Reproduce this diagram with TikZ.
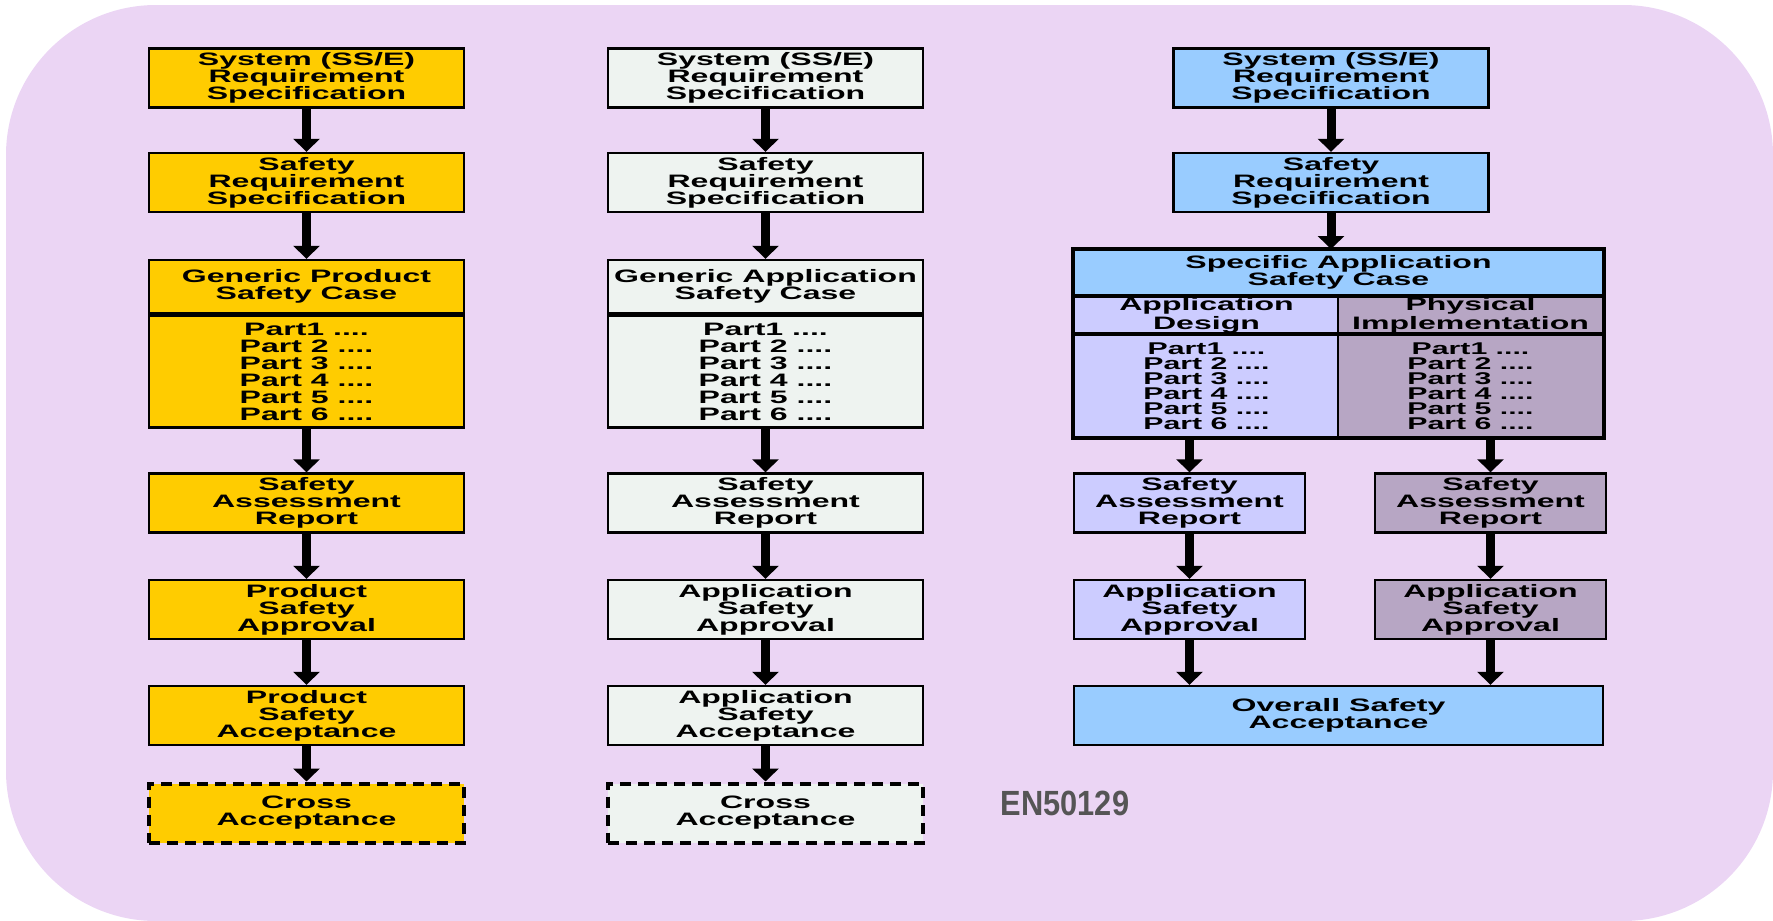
\documentclass[tikz,border=0pt]{standalone}
\usepackage{fontspec}
\setmainfont{Liberation Sans}
\newfontfamily\boxfont{Liberation Sans}[FakeStretch=1.78]
\newfontfamily\enfont{Liberation Sans}[FakeStretch=0.88]
\usetikzlibrary{arrows.meta,positioning}

\definecolor{bglilac}{RGB}{235,213,244}
\definecolor{prodyellow}{RGB}{255,204,0}
\definecolor{genwhite}{RGB}{238,243,240}
\definecolor{specblue}{RGB}{153,204,255}
\definecolor{designlilac}{RGB}{204,204,255}
\definecolor{implmauve}{RGB}{183,166,196}
\definecolor{engrey}{RGB}{85,85,85}

\tikzset{
	stagebox/.style={draw,
		line width=1.2pt,
		minimum width=157.5pt,
		minimum height=29.5pt,
		inner sep=0pt,
		align=center,
		font=\boxfont\bfseries\fontsize{9}{8.5}\selectfont},
	halfbox/.style={stagebox, minimum width=115.5pt},
	crossbox/.style={stagebox, line width=2pt, dash pattern=on 5.5pt off 3.5pt},
	cellbox/.style={stagebox, line width=1pt, minimum width=132.5pt},
	flow/.style={line width=4.5pt, -{Triangle[width=13pt,length=6.5pt]}},
}

\begin{document}
\begin{tikzpicture}[x=0.5pt,y=-0.5pt]

\useasboundingbox (0,0) rectangle (1773,921);
\fill[bglilac, rounded corners=75pt] (6,5) rectangle (1773,921);

%Generic Product
\node [stagebox, fill=prodyellow] (srs1) at (306.5,78) {System (SS/E)\\Requirement\\Specification};
\node [stagebox, fill=prodyellow] (sfr1) at (306.5,182.5) {Safety\\Requirement\\Specification};
\node [stagebox, fill=prodyellow,
	minimum height=26.5pt,
]  (case1) at (306.5,286.5) {Generic Product\\Safety Case};
\node [stagebox, fill=prodyellow,
	minimum height=56pt,
	below=0pt of case1,
]  (parts1) {Part1 ....\\Part 2 ....\\Part 3 ....\\Part 4 ....\\Part 5 ....\\Part 6 ....};
\node [stagebox, fill=prodyellow] (sar1) at (306.5,503) {Safety\\Assessment\\Report};
\node [stagebox, fill=prodyellow] (appr1) at (306.5,609.5) {Product\\Safety\\Approval};
\node [stagebox, fill=prodyellow] (acc1) at (306.5,715.5) {Product\\Safety\\Acceptance};
\node [crossbox, fill=prodyellow] (cross1) at (306.5,813) {Cross\\Acceptance};

\draw[flow] (srs1.south) -- (sfr1.north);
\draw[flow] (sfr1.south) -- (case1.north);
\draw[flow] (parts1.south) -- (sar1.north);
\draw[flow] (sar1.south) -- (appr1.north);
\draw[flow] (appr1.south) -- (acc1.north);
\draw[flow] (acc1.south) -- (cross1.north);

%Generic Application
\node [stagebox, fill=genwhite] (srs2) at (765.5,78) {System (SS/E)\\Requirement\\Specification};
\node [stagebox, fill=genwhite] (sfr2) at (765.5,182.5) {Safety\\Requirement\\Specification};
\node [stagebox, fill=genwhite,
	minimum height=26.5pt,
]  (case2) at (765.5,286.5) {Generic Application\\Safety Case};
\node [stagebox, fill=genwhite,
	minimum height=56pt,
	below=0pt of case2,
]  (parts2) {Part1 ....\\Part 2 ....\\Part 3 ....\\Part 4 ....\\Part 5 ....\\Part 6 ....};
\node [stagebox, fill=genwhite] (sar2) at (765.5,503) {Safety\\Assessment\\Report};
\node [stagebox, fill=genwhite] (appr2) at (765.5,609.5) {Application\\Safety\\Approval};
\node [stagebox, fill=genwhite] (acc2) at (765.5,715.5) {Application\\Safety\\Acceptance};
\node [crossbox, fill=genwhite] (cross2) at (765.5,813) {Cross\\Acceptance};

\draw[flow] (srs2.south) -- (sfr2.north);
\draw[flow] (sfr2.south) -- (case2.north);
\draw[flow] (parts2.south) -- (sar2.north);
\draw[flow] (sar2.south) -- (appr2.north);
\draw[flow] (appr2.south) -- (acc2.north);
\draw[flow] (acc2.south) -- (cross2.north);

%Specific Application
\node [stagebox, fill=specblue] (srs3) at (1331,78) {System (SS/E)\\Requirement\\Specification};
\node [stagebox, fill=specblue] (sfr3) at (1331,182.5) {Safety\\Requirement\\Specification};
\node [stagebox, fill=specblue,
	line width=1pt,
	minimum width=264.5pt,
	minimum height=22.5pt,
]  (case3) at (1338.5,272.5) {Specific Application\\Safety Case};

%Design / Implementation cells
\node [cellbox, fill=designlilac,
	minimum height=18pt,
	anchor=north west,
	font=\boxfont\bfseries\fontsize{9}{7.5}\selectfont,
]  (design) at (case3.south west) {Application\\Design};
\node [cellbox, fill=implmauve,
	minimum height=18pt,
	anchor=north east,
	font=\boxfont\bfseries\fontsize{9}{7.5}\selectfont,
]  (impl) at (case3.south east) {Physical\\Implementation};
\node [cellbox, fill=designlilac,
	minimum height=51pt,
	below=0pt of design,
	font=\boxfont\bfseries\fontsize{8.5}{7.5}\selectfont,
]  (designparts) {Part1 ....\\Part 2 ....\\Part 3 ....\\Part 4 ....\\Part 5 ....\\Part 6 ....};
\node [cellbox, fill=implmauve,
	minimum height=51pt,
	below=0pt of impl,
	font=\boxfont\bfseries\fontsize{8.5}{7.5}\selectfont,
]  (implparts) {Part1 ....\\Part 2 ....\\Part 3 ....\\Part 4 ....\\Part 5 ....\\Part 6 ....};
\draw[line width=2pt] (case3.north west) rectangle (implparts.south east);

\node [halfbox, fill=designlilac] (sar3) at (1189.5,503) {Safety\\Assessment\\Report};
\node [halfbox, fill=implmauve] (sar4) at (1490.5,503) {Safety\\Assessment\\Report};
\node [halfbox, fill=designlilac] (appr3) at (1189.5,609.5) {Application\\Safety\\Approval};
\node [halfbox, fill=implmauve] (appr4) at (1490.5,609.5) {Application\\Safety\\Approval};
\node [stagebox, fill=specblue,
	minimum width=264.5pt,
]  (overall) at (1338.5,715.5) {Overall Safety\\Acceptance};

\draw[flow] (srs3.south) -- (sfr3.north);
\draw[flow] (sfr3.south) -- (sfr3.south |- case3.north);
\draw[flow] (sar3.north |- designparts.south) -- (sar3.north);
\draw[flow] (sar4.north |- implparts.south) -- (sar4.north);
\draw[flow] (sar3.south) -- (appr3.north);
\draw[flow] (sar4.south) -- (appr4.north);
\draw[flow] (appr3.south) -- (appr3.south |- overall.north);
\draw[flow] (appr4.south) -- (appr4.south |- overall.north);

%Standard
\node [font=\enfont\bfseries\fontsize{17.5}{17.5}\selectfont,
	text=engrey,
]  (std) at (1065,803) {EN50129};

\end{tikzpicture}
\end{document}
